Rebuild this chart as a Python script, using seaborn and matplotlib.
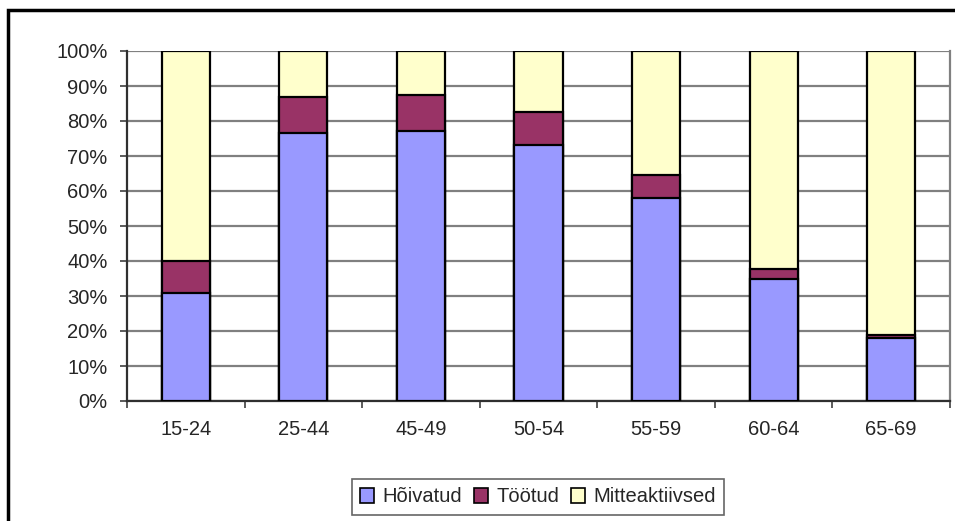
import pandas as pd
import matplotlib.pyplot as plt
import seaborn as sns
from matplotlib.patches import Patch, Rectangle
from matplotlib.ticker import PercentFormatter, FixedLocator

# Data (share of age group, %)
age_groups = ['15-24', '25-44', '45-49', '50-54', '55-59', '60-64', '65-69']
hoivatud = [30.9, 76.6, 77.2, 73.1, 58.0, 34.9, 17.9]
tootud = [9.1, 10.3, 10.2, 9.4, 6.6, 2.9, 1.0]
series_names = ['Hõivatud', 'Töötud', 'Mitteaktiivsed']
colors = ['#9999FF', '#993366', '#FFFFCC']

df = pd.DataFrame({'age': age_groups, 'hoivatud': hoivatud, 'tootud': tootud})
df['mitteaktiivsed'] = 100 - df['hoivatud'] - df['tootud']

# cumulative levels, drawn from the top down so each layer overlays the previous
df['lvl1'] = df['hoivatud'] / 100
df['lvl2'] = (df['hoivatud'] + df['tootud']) / 100
df['lvl3'] = (df['hoivatud'] + df['tootud'] + df['mitteaktiivsed']) / 100

sns.set_style('white')
plt.rcParams['font.family'] = ['Liberation Sans', 'DejaVu Sans']
fs = 14.5

fig = plt.figure(figsize=(9.55, 5.21), dpi=100)
ax = fig.add_axes([127 / 955, 1 - 401 / 521, 823 / 955, 350 / 521])

for col, c in zip(['lvl3', 'lvl2', 'lvl1'], colors[::-1]):
    sns.barplot(data=df, x='age', y=col, color=c, width=0.41, edgecolor='black',
                linewidth=1.6, saturation=1, ax=ax, zorder=3)

ax.set_xlim(-0.5, 6.5)
ax.set_ylim(0, 1)
ax.set_yticks([i / 10 for i in range(11)])
ax.yaxis.set_major_formatter(PercentFormatter(1.0, decimals=0))
ax.grid(axis='y', color='#808080', linewidth=1.6, zorder=0)
ax.set_axisbelow(True)
ax.set_xlabel('')
ax.set_ylabel('')

# x tick marks sit between categories
ax.xaxis.set_minor_locator(FixedLocator([i - 0.5 for i in range(8)]))
ax.tick_params(axis='x', which='major', length=0, pad=14, labelsize=fs)
ax.tick_params(axis='x', which='minor', length=5, width=1.2, color='#404040', direction='out')
ax.tick_params(axis='y', length=5, width=1.2, color='#404040', direction='out', pad=9, labelsize=fs)
ax.tick_params(left=True, bottom=True, which='both')

for side in ['left', 'bottom']:
    ax.spines[side].set_color('#303030')
    ax.spines[side].set_linewidth(1.6)
ax.spines['right'].set_color('#808080')
ax.spines['right'].set_linewidth(1.6)
ax.spines['top'].set_visible(False)

handles = [Patch(facecolor=c, edgecolor='black', linewidth=1.2) for c in colors]
fig.legend(handles, series_names, loc='center', bbox_to_anchor=(538 / 955, 1 - 497 / 521),
           ncol=3, frameon=True, fancybox=False, edgecolor='#404040', fontsize=fs,
           handlelength=0.7, handleheight=0.7, handletextpad=0.4, columnspacing=0.6,
           borderpad=0.4).get_frame().set_linewidth(1.2)

# outer chart border, runs off the right and bottom edges
fig.patches.append(Rectangle((8 / 955, -0.1), 1.2, 1 - 10 / 521 + 0.1, transform=fig.transFigure,
                             fill=False, edgecolor='black', linewidth=2.5))

fig.savefig('out.png', dpi=100)
